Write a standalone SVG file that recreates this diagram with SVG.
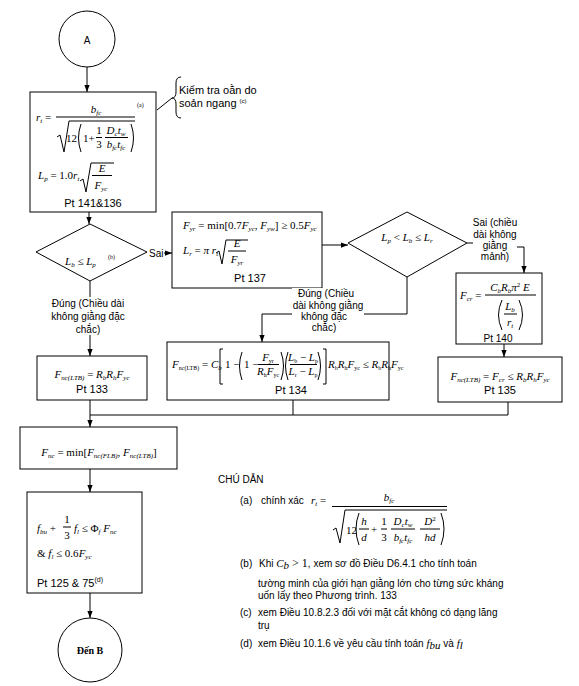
<svg xmlns="http://www.w3.org/2000/svg" width="579" height="686" viewBox="0 0 579 686">
<defs>
<style>
.bx{fill:#fff;stroke:#000;stroke-width:1}
.ln{fill:none;stroke:#000;stroke-width:1}
.mi{font-family:"Liberation Serif",serif;font-style:italic;font-size:11px}
.up{font-style:normal}
.sb{font-size:7px}
.sp{font-size:6px;font-style:normal}
.t{font-family:"Liberation Sans",Arial,sans-serif;font-size:10px}
.pt{font-family:"Liberation Sans",Arial,sans-serif;font-size:11px}
.mid{text-anchor:middle}
</style>
<marker id="ah" viewBox="0 0 8 8" refX="8" refY="4" markerWidth="7" markerHeight="7" orient="auto" markerUnits="userSpaceOnUse"><path d="M0,1 L8,4 L0,7 z" fill="#000"/></marker>
</defs>
<rect width="579" height="686" fill="#fff"/>

<g id="connectors">
<line class="ln" x1="87" y1="67" x2="87" y2="92" marker-end="url(#ah)"/>
<line class="ln" x1="89" y1="212" x2="89" y2="224" marker-end="url(#ah)"/>
<line class="ln" x1="157" y1="110" x2="172" y2="98"/>
<line class="ln" x1="164" y1="253" x2="172" y2="253" marker-end="url(#ah)"/>
<line class="ln" x1="322" y1="245" x2="348" y2="245" marker-end="url(#ah)"/>
<line class="ln" x1="467" y1="243" x2="473" y2="243"/>
<path class="ln" d="M517,247 L524,247 L524,273" marker-end="url(#ah)"/>
<line class="ln" x1="504" y1="344" x2="504" y2="357" marker-end="url(#ah)"/>
<path class="ln" d="M407,277 L407,314 L262,314 L262,342" marker-end="url(#ah)"/>
<line class="ln" x1="90" y1="281" x2="90" y2="356" marker-end="url(#ah)"/>
<line class="ln" x1="90" y1="400" x2="90" y2="427" marker-end="url(#ah)"/>
<line class="ln" x1="293" y1="400" x2="293" y2="415"/>
<line class="ln" x1="508" y1="402" x2="508" y2="415"/>
<line class="ln" x1="90" y1="415" x2="508" y2="415"/>
<line class="ln" x1="90" y1="469" x2="90" y2="492" marker-end="url(#ah)"/>
<line class="ln" x1="90" y1="593" x2="90" y2="618" marker-end="url(#ah)"/>
</g>

<g id="startA">
<circle class="bx" cx="87" cy="39" r="28"/>
<text class="t mid" x="87" y="44" font-size="12">A</text>
</g>

<g id="box-rt">
<rect class="bx" x="30" y="92" width="126" height="120"/>
<text class="mi" x="36" y="121" font-size="12">r<tspan class="sb" dy="2">t</tspan><tspan class="up" dy="-2"> =</tspan></text>
<line class="ln" x1="56" y1="117" x2="135" y2="117"/>
<text class="mi mid" x="96" y="113" font-size="12">b<tspan class="sb" dy="2">fc</tspan></text>
<text class="sp" x="137" y="107" font-style="italic">(a)</text>
<path class="ln" d="M57,137 L60,135 L64,152 L69,121 L135,121"/>
<text class="mi up" x="66" y="142">12</text>
<path class="ln" d="M81,124 Q76,138 81,152"/>
<text class="mi up" x="83" y="142">1+</text>
<text class="mi up mid" x="99" y="134" font-size="10">1</text>
<line class="ln" x1="96" y1="137.5" x2="102" y2="137.5"/>
<text class="mi up mid" x="99" y="148" font-size="10">3</text>
<text class="mi mid" x="116" y="134" font-size="10">D<tspan class="sb" dy="2">c</tspan><tspan dy="-2">t</tspan><tspan class="sb" dy="2">w</tspan></text>
<line class="ln" x1="105" y1="137.5" x2="128" y2="137.5"/>
<text class="mi mid" x="116" y="148" font-size="10">b<tspan class="sb" dy="2">fc</tspan><tspan dy="-2">t</tspan><tspan class="sb" dy="2">fc</tspan></text>
<path class="ln" d="M131,124 Q136,138 131,152"/>
<text class="mi" x="38" y="179" font-size="12">L<tspan class="sb" dy="2">p</tspan><tspan class="up" dy="-2"> = 1.0</tspan>r<tspan class="sb" dy="2">t</tspan></text>
<path class="ln" d="M80,181 L83,179 L86,192 L91,163 L114,163"/>
<text class="mi mid" x="102" y="172" font-size="11">E</text>
<line class="ln" x1="92" y1="175.5" x2="112" y2="175.5"/>
<text class="mi mid" x="101" y="189" font-size="11">F<tspan class="sb" dy="2">yc</tspan></text>
<text class="pt mid" x="93" y="207">Pt 141&amp;136</text>
</g>

<g id="note-ltb">
<path class="ln" d="M181,77 Q176,77 176,83 L176,92 Q176,98 172,98 Q176,98 176,104 L176,112 Q176,118 181,118"/>
<text class="pt" x="179" y="94">Kiểm tra oằn do</text>
<text class="pt" x="179" y="107">soản ngang <tspan font-size="6" dy="-4">(c)</tspan></text>
</g>

<g id="dec-lb-lp">
<polygon class="bx" points="90,224 147,252 90,281 36,252"/>
<text class="mi" x="65" y="265" font-size="12">L<tspan class="sb" dy="2">b</tspan><tspan class="up" dy="-2"> ≤ </tspan>L<tspan class="sb" dy="2">p</tspan></text>
<text class="sp" x="108" y="259">(b)</text>
<text class="t" x="149" y="257">Sai</text>
<rect x="45" y="297" width="90" height="38" fill="#fff"/>
<text class="t mid" x="88" y="307">Đúng (Chiều dài</text>
<text class="t mid" x="88" y="320">không giằng đặc</text>
<text class="t mid" x="88" y="333">chắc)</text>
</g>

<g id="box-fyr">
<rect class="bx" x="172" y="212" width="150" height="76"/>
<text class="mi" x="183" y="229" font-size="12">F<tspan class="sb" dy="2">yr</tspan><tspan class="up" dy="-2"> = min[0.7</tspan>F<tspan class="sb" dy="2">yc</tspan><tspan class="up" dy="-2">, </tspan>F<tspan class="sb" dy="2">yw</tspan><tspan class="up" dy="-2">] ≥ 0.5</tspan>F<tspan class="sb" dy="2">yc</tspan></text>
<text class="mi" x="183" y="254" font-size="12">L<tspan class="sb" dy="2">r</tspan><tspan class="up" dy="-2"> = </tspan>π r<tspan class="sb" dy="2">t</tspan></text>
<path class="ln" d="M216,253 L219,251 L222,264 L226,240 L248,240"/>
<text class="mi mid" x="237" y="247" font-size="12">E</text>
<line class="ln" x1="228" y1="251" x2="246" y2="251"/>
<text class="mi mid" x="237" y="263" font-size="12">F<tspan class="sb" dy="2">yr</tspan></text>
<text class="pt mid" x="250" y="282">Pt 137</text>
</g>

<g id="dec-lp-lb-lr">
<polygon class="bx" points="407,212 467,243 407,277 348,243"/>
<text class="mi mid" x="407" y="241" font-size="12">L<tspan class="sb" dy="2">p</tspan><tspan class="up" dy="-2"> &lt; </tspan>L<tspan class="sb" dy="2">b</tspan><tspan class="up" dy="-2"> ≤ </tspan>L<tspan class="sb" dy="2">r</tspan></text>
<text class="t mid" x="495" y="226" font-size="9.5">Sai (chiều</text>
<text class="t mid" x="495" y="238" font-size="9.5">dài không</text>
<text class="t mid" x="495" y="249" font-size="9.5">giằng</text>
<text class="t mid" x="495" y="260" font-size="9.5">mảnh)</text>
<rect x="292" y="288" width="72" height="46" fill="#fff"/>
<text class="t mid" x="326" y="297" font-size="9.5">Đúng (Chiều</text>
<text class="t mid" x="328" y="309" font-size="9.5">dài không giằng</text>
<text class="t mid" x="324" y="320" font-size="9.5">không đặc</text>
<text class="t mid" x="324" y="331" font-size="9.5">chắc)</text>
</g>

<g id="box-fcr">
<rect class="bx" x="456" y="273" width="86" height="71"/>
<text class="mi" x="460" y="299" font-size="12">F<tspan class="sb" dy="2">cr</tspan><tspan class="up" dy="-2"> =</tspan></text>
<text class="mi mid" x="510" y="291" font-size="11">C<tspan class="sb" dy="2">b</tspan><tspan dy="-2">R</tspan><tspan class="sb" dy="2">b</tspan><tspan dy="-2">π</tspan><tspan class="sb up" dy="-4">2</tspan><tspan dy="4"> E</tspan></text>
<line class="ln" x1="485" y1="295" x2="536" y2="295"/>
<path class="ln" d="M502,300 Q495,315 502,330"/>
<text class="mi mid" x="510" y="310" font-size="11">L<tspan class="sb" dy="2">b</tspan></text>
<line class="ln" x1="504" y1="314" x2="517" y2="314"/>
<text class="mi mid" x="510" y="326" font-size="11">r<tspan class="sb" dy="2">t</tspan></text>
<path class="ln" d="M519,300 Q526,315 519,330"/>
<text class="t mid" x="498" y="342">Pt 140</text>
</g>

<g id="box-pt135">
<rect class="bx" x="438" y="357" width="124" height="45"/>
<text class="mi mid" x="500" y="380" font-size="12">F<tspan class="sb" dy="2">nc(LTB)</tspan><tspan class="up" dy="-2"> = </tspan>F<tspan class="sb" dy="2">cr</tspan><tspan class="up" dy="-2"> ≤ </tspan>R<tspan class="sb" dy="2">b</tspan><tspan dy="-2">R</tspan><tspan class="sb" dy="2">h</tspan><tspan dy="-2">F</tspan><tspan class="sb" dy="2">yc</tspan></text>
<text class="pt mid" x="500" y="394">Pt 135</text>
</g>

<g id="box-pt133">
<rect class="bx" x="37" y="356" width="110" height="44"/>
<text class="mi mid" x="92" y="378" font-size="13">F<tspan class="sb" font-size="8" dy="2">nc(LTB)</tspan><tspan class="up" dy="-2"> = </tspan>R<tspan class="sb" font-size="8" dy="2">b</tspan><tspan dy="-2">R</tspan><tspan class="sb" font-size="8" dy="2">h</tspan><tspan dy="-2">F</tspan><tspan class="sb" font-size="8" dy="2">yc</tspan></text>
<text class="pt mid" x="92" y="393" font-size="12">Pt 133</text>
</g>

<g id="box-pt134">
<rect class="bx" x="167" y="342" width="222" height="58"/>
<text class="mi" x="172" y="368" font-size="10">F<tspan class="sp" font-style="italic" dy="2">nc(LTB)</tspan><tspan class="up" dy="-2"> = </tspan>C<tspan class="sb" dy="2">b</tspan></text>
<path class="ln" d="M223,349 L220,349 L220,384 L223,384"/>
<text class="mi up" x="225" y="368" font-size="10">1 −</text>
<path class="ln" d="M242,352 Q237,366 242,380"/>
<text class="mi up" x="244" y="368" font-size="10">1 −</text>
<text class="mi mid" x="268" y="361" font-size="9">F<tspan class="sp" dy="2">yr</tspan></text>
<line class="ln" x1="258" y1="364.5" x2="279" y2="364.5"/>
<text class="mi mid" x="268" y="375" font-size="9">R<tspan class="sp" dy="2">h</tspan><tspan dy="-2">F</tspan><tspan class="sp" dy="2">yc</tspan></text>
<path class="ln" d="M281,352 Q286,366 281,380"/>
<path class="ln" d="M288,352 Q283,366 288,380"/>
<text class="mi mid" x="303" y="361" font-size="9">L<tspan class="sp" dy="2">b</tspan><tspan class="up" dy="-2"> − </tspan>L<tspan class="sp" dy="2">p</tspan></text>
<line class="ln" x1="290" y1="364.5" x2="317" y2="364.5"/>
<text class="mi mid" x="303" y="375" font-size="9">L<tspan class="sp" dy="2">r</tspan><tspan class="up" dy="-2"> − </tspan>L<tspan class="sp" dy="2">p</tspan></text>
<path class="ln" d="M318,352 Q323,366 318,380"/>
<path class="ln" d="M323,349 L326,349 L326,384 L323,384"/>
<text class="mi" x="328" y="368" font-size="9.5">R<tspan class="sp" dy="2">b</tspan><tspan dy="-2">R</tspan><tspan class="sp" dy="2">h</tspan><tspan dy="-2">F</tspan><tspan class="sp" dy="2">yc</tspan><tspan class="up" dy="-2"> ≤ </tspan>R<tspan class="sp" dy="2">b</tspan><tspan dy="-2">R</tspan><tspan class="sp" dy="2">h</tspan><tspan dy="-2">F</tspan><tspan class="sp" dy="2">yc</tspan></text>
<text class="pt mid" x="291" y="394">Pt 134</text>
</g>

<g id="box-fnc">
<rect class="bx" x="20" y="427" width="157" height="42"/>
<text class="mi mid" x="99" y="456" font-size="13">F<tspan class="sb" font-size="8" dy="2">nc</tspan><tspan class="up" dy="-2"> = min[</tspan>F<tspan class="sb" font-size="8" dy="2">nc(FLB)</tspan><tspan class="up" dy="-2">, </tspan>F<tspan class="sb" font-size="8" dy="2">nc(LTB)</tspan><tspan class="up" dy="-2">]</tspan></text>
</g>

<g id="box-fbu">
<rect class="bx" x="27" y="492" width="115" height="101"/>
<text class="mi" x="37" y="532" font-size="12">f<tspan class="sb" dy="2">bu</tspan><tspan class="up" dy="-2"> +</tspan></text>
<text class="mi up mid" x="67" y="523" font-size="11">1</text>
<line class="ln" x1="63" y1="527" x2="71" y2="527"/>
<text class="mi up mid" x="67" y="539" font-size="11">3</text>
<text class="mi" x="74" y="532" font-size="12">f<tspan class="sb" dy="2">l</tspan><tspan class="up" dy="-2"> ≤ Φ</tspan><tspan class="sb" dy="2">f</tspan><tspan dy="-2"> F</tspan><tspan class="sb" dy="2">nc</tspan></text>
<text class="mi" x="37" y="557" font-size="12"><tspan class="up">&amp; </tspan>f<tspan class="sb" dy="2">l</tspan><tspan class="up" dy="-2"> ≤ 0.6</tspan>F<tspan class="sb" dy="2">yc</tspan></text>
<text class="pt" x="37" y="587">Pt 125 &amp; 75<tspan font-size="7" dy="-5">(d)</tspan></text>
</g>

<g id="endB">
<circle class="bx" cx="90" cy="650" r="32"/>
<text class="mid" x="90" y="654" font-family="Liberation Serif,serif" font-size="10" font-weight="bold">Đến B</text>
</g>

<g id="legend">
<text class="t" x="218" y="483">CHÚ DẪN</text>
<text class="t" x="240" y="504">(a)</text>
<text class="t" x="261" y="504">chính xác</text>
<text class="mi" x="311" y="504" font-size="12">r<tspan class="sb" dy="2">t</tspan><tspan class="up" dy="-2"> =</tspan></text>
<text class="mi mid" x="389" y="501" font-size="12">b<tspan class="sb" dy="2">fc</tspan></text>
<line class="ln" x1="332" y1="506.5" x2="447" y2="506.5"/>
<path class="ln" d="M333,530 L336,528 L340,543 L345,510 L447,510"/>
<text class="mi up" x="346" y="534" font-size="11">12</text>
<path class="ln" d="M359,513 Q353,529 359,545"/>
<text class="mi mid" x="364" y="525" font-size="11">h</text>
<line class="ln" x1="359" y1="529" x2="369" y2="529"/>
<text class="mi mid" x="364" y="541" font-size="11">d</text>
<text class="mi up" x="371" y="533" font-size="11">+</text>
<text class="mi up mid" x="384" y="525" font-size="10">1</text>
<line class="ln" x1="381" y1="529" x2="387" y2="529"/>
<text class="mi up mid" x="384" y="541" font-size="10">3</text>
<text class="mi mid" x="403" y="525" font-size="10">D<tspan class="sb" dy="2">c</tspan><tspan dy="-2">t</tspan><tspan class="sb" dy="2">w</tspan></text>
<line class="ln" x1="391" y1="529" x2="415" y2="529"/>
<text class="mi mid" x="403" y="541" font-size="10">b<tspan class="sb" dy="2">fc</tspan><tspan dy="-2">t</tspan><tspan class="sb" dy="2">fc</tspan></text>
<text class="mi mid" x="430" y="525" font-size="10">D<tspan class="sb up" dy="-4">2</tspan></text>
<line class="ln" x1="420" y1="529" x2="440" y2="529"/>
<text class="mi mid" x="430" y="541" font-size="10">hd</text>
<path class="ln" d="M441,513 Q447,529 441,545"/>
<text class="t" x="240" y="567">(b)</text>
<text class="t" x="259" y="567">Khi <tspan class="mi" font-size="12">C</tspan><tspan class="mi" font-size="7" dy="2">b</tspan><tspan font-family="Liberation Serif,serif" font-size="12" dy="-2"> &gt; 1</tspan>, xem sơ đồ Điều D6.4.1 cho tính toán</text>
<text class="t" x="258" y="587">tường minh của giới hạn giằng lớn cho từng sức kháng</text>
<text class="t" x="258" y="599">uốn lấy theo Phương trình. 133</text>
<text class="t" x="240" y="616">(c)</text>
<text class="t" x="258" y="616">xem Điều 10.8.2.3 đối với mặt cắt không có dạng lăng</text>
<text class="t" x="258" y="629">trụ</text>
<text class="t" x="240" y="647">(d)</text>
<text class="t" x="258" y="647">xem Điều 10.1.6 về yêu cầu tính toán <tspan class="mi" font-size="12">f</tspan><tspan class="mi" font-size="6" dy="2">bu</tspan><tspan dy="-2"> và </tspan><tspan class="mi" font-size="12">f</tspan><tspan class="mi" font-size="7" dy="2">l</tspan></text>
</g>
</svg>
